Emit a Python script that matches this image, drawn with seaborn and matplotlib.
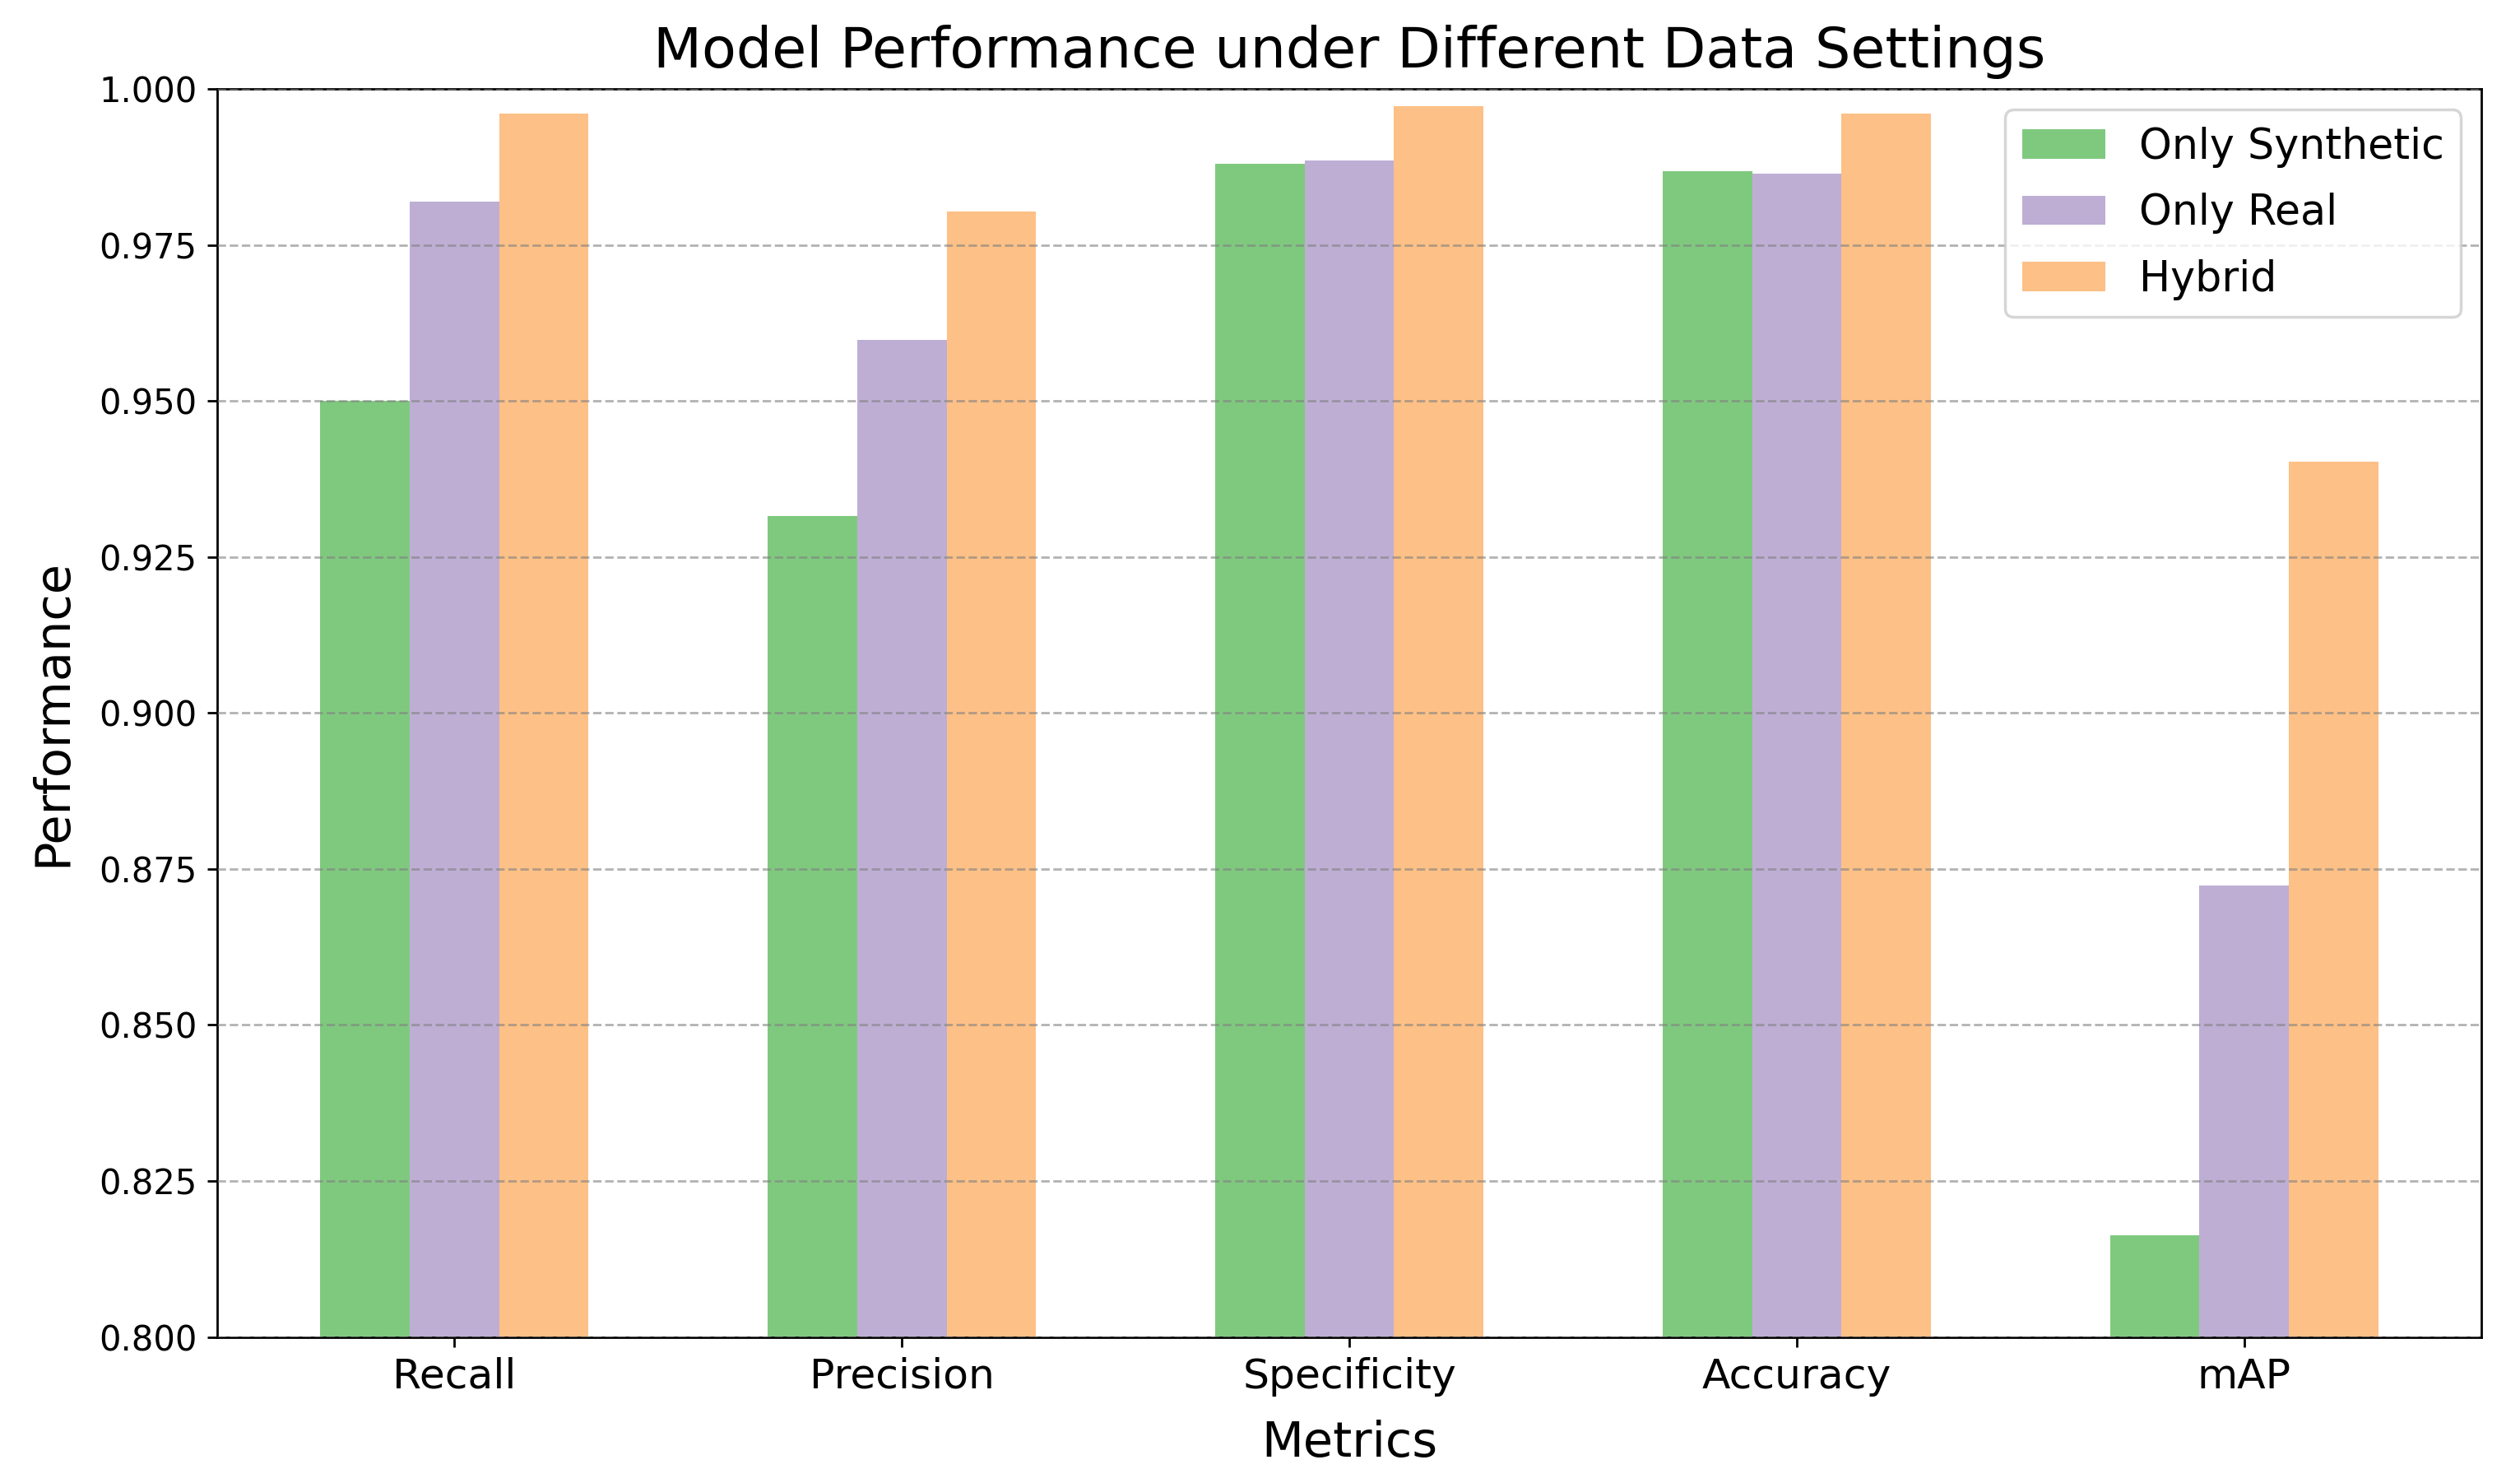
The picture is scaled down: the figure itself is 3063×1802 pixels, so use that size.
import pandas as pd
import seaborn as sns
import matplotlib.pyplot as plt

metrics = ['Recall', 'Precision', 'Specificity', 'Accuracy', 'mAP']
settings = ['Only Synthetic', 'Only Real', 'Hybrid']
only_synthetic = [0.950, 0.9315, 0.9880, 0.9868, 0.8163]
only_real = [0.9820, 0.9598, 0.9885, 0.9864, 0.8723]
hybrid = [0.9961, 0.9804, 0.9973, 0.9961, 0.9403]
colors = ['#7fc97f', '#beaed4', '#fdc086']

# long format for seaborn
rows = []
for name, vals in zip(settings, [only_synthetic, only_real, hybrid]):
    for m, v in zip(metrics, vals):
        rows.append({'Metric': m, 'Setting': name, 'Performance': v})
df = pd.DataFrame(rows)

fig = plt.figure(figsize=(12.252, 7.208), dpi=250)
ax = fig.add_axes([0.0862, 0.0985, 0.8985, 0.8415])

sns.barplot(data=df, x='Metric', y='Performance', hue='Setting', order=metrics,
            hue_order=settings, palette=colors, width=0.6, saturation=1, ax=ax)

ax.set_ylim(0.8, 1.0)
ax.set_xlim(-0.53, 4.53)
ax.grid(axis='y', linestyle='--', color='gray', alpha=0.6, linewidth=0.8)
ax.set_axisbelow(False)

ax.set_title('Model Performance under Different Data Settings', fontsize=19.7, pad=7.5)
ax.set_xlabel('Metrics', fontsize=17, labelpad=8)
ax.set_ylabel('Performance', fontsize=17, labelpad=8)
ax.tick_params(axis='x', labelsize=14.5)
ax.tick_params(axis='y', labelsize=12)
ax.legend(fontsize=14.6, loc='upper right', labelspacing=0.6)

fig.savefig('out.png', dpi=250)
